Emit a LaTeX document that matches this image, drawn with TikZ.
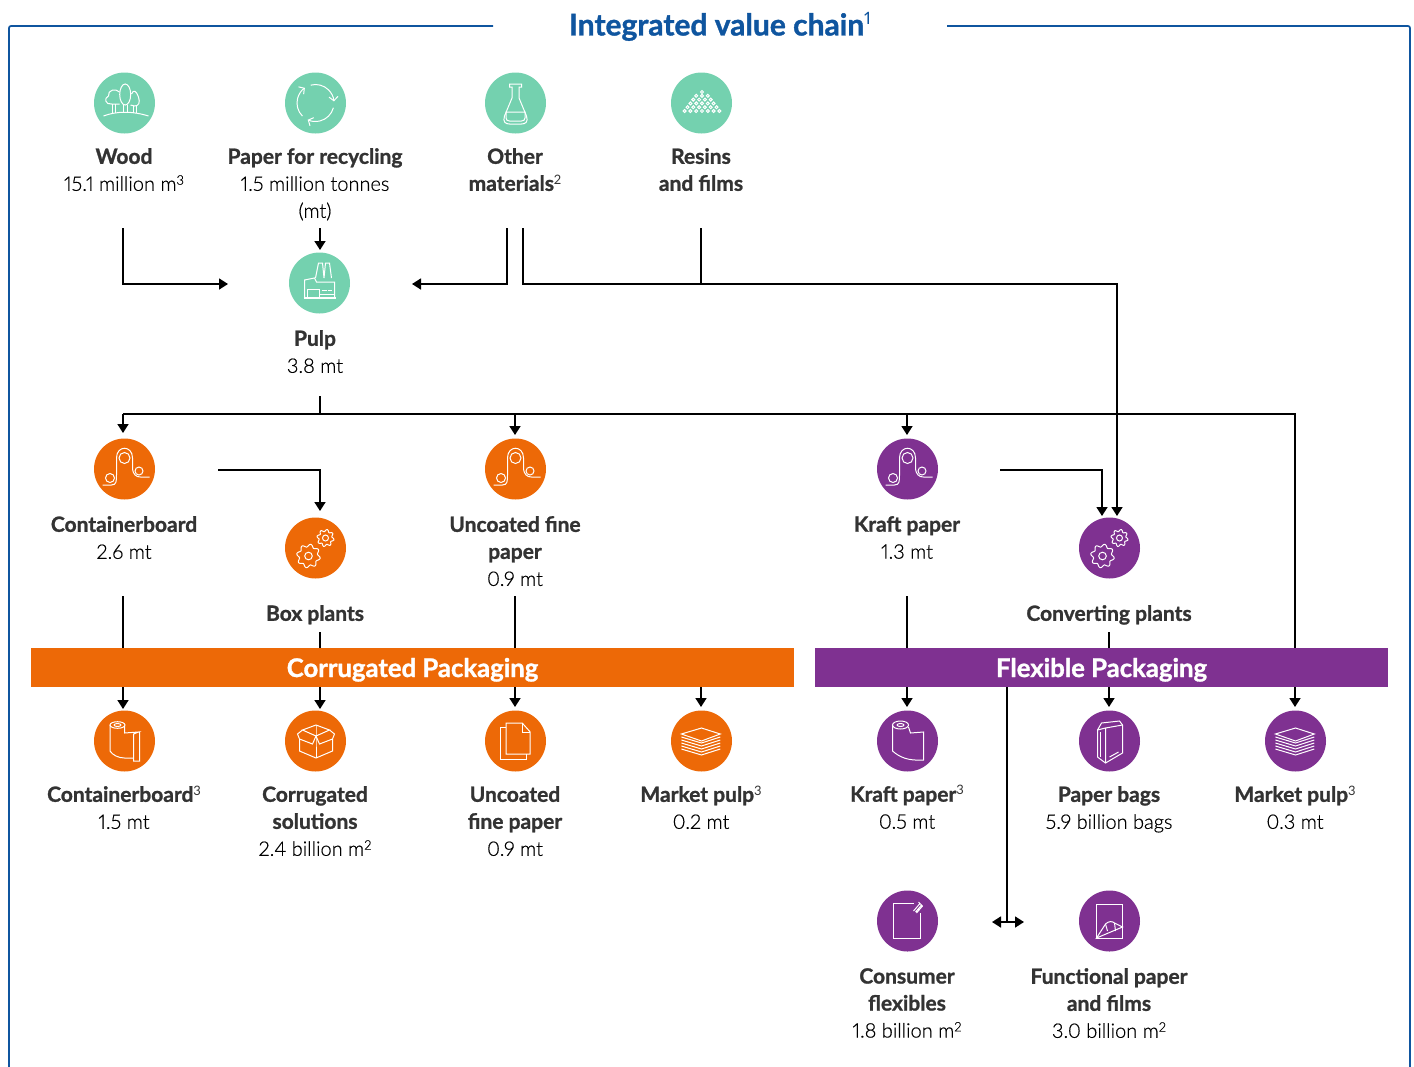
\documentclass[tikz,border=0pt]{standalone}
\usepackage{fontspec}
\setmainfont{Lato}[Numbers=Proportional,BoldFont=Lato Bold,BoldFeatures={FakeBold=1.2}]
\newfontfamily\valfont{Lato Light}[Numbers=Proportional,FakeBold=0.5]
\usetikzlibrary{arrows.meta,positioning}
\definecolor{mint}{HTML}{74D1AF}
\definecolor{corrug}{HTML}{ED6907}
\definecolor{flexi}{HTML}{7F3191}
\definecolor{chain}{HTML}{0F559F}
\definecolor{inkgrey}{HTML}{333333}
\newcommand{\nm}[1]{{\bfseries\color{inkgrey}#1}}
\newcommand{\vl}[1]{{\valfont\fontsize{20}{27}\selectfont #1}}
\newcommand{\upidx}[1]{\smash{\raisebox{0.62ex}{\mdseries\fontsize{13}{13}\selectfont #1}}}
\tikzset{
	disc/.style={circle,inner sep=0pt,minimum size=61pt,fill=#1},
	lab/.style={align=center,anchor=north,inner sep=0pt,font=\fontsize{21}{27}\selectfont},
	band/.style={minimum height=39pt,inner sep=0pt,text height=19pt,text depth=0pt,text=white,font=\fontsize{25.7}{27}\selectfont\bfseries},
	wire/.style={draw=black,line width=1.7pt},
	flow/.style={wire,-{Triangle[length=9pt,width=11pt]}},
	both/.style={wire,{Triangle[length=9pt,width=11pt]}-{Triangle[length=9pt,width=11pt]}},
	ico/.style={draw=white,line width=1pt},
	wider/.style={xscale=1.34},
	pics/trees/.style={code={
		\draw[ico] (-21,13) .. controls (-8,8) and (8,8) .. (24,13);
		\draw[ico] (0.7,-8.5) ellipse (5.5 and 10.5);
		\draw[ico] (-5,-11) .. controls (-9,-15) and (-17,-13) .. (-16,-7) .. controls (-21,-5) and (-19,2) .. (-13,1) -- (-5,1);
		\draw[ico] (7,-9) .. controls (9,-14) and (12,-12) .. (14,-6) .. controls (16,0) and (14,3) .. (10,3) -- (6,2);
		\draw[ico] (-12,1) -- (-12,10) (-9,1) -- (-9,10) (-1,2) -- (-1,9) (2.5,2) -- (2.5,9) (9,3) -- (9,10) (11.5,3) -- (11.5,10);
	}},
	pics/recycle/.style={code={
		\foreach \a in {0,120,240}
			\draw[ico,-{Straight Barb[length=4pt,width=9pt]}] (\a+15:18.5) arc (\a+15:\a+115:18.5);
	}},
	pics/flask/.style={code={
		\draw[ico] (-6,-19) -- (6,-19) -- (6,-16) -- (3.5,-16) -- (3.5,-5) -- (11,13) .. controls (13,19) and (10,21) .. (6,21) -- (-6,21) .. controls (-10,21) and (-13,19) .. (-11,13) -- (-3.5,-5) -- (-3.5,-16) -- (-6,-16) -- cycle;
		\draw[ico] (-9.5,9) -- (9.5,9) -- (9.5,15) .. controls (9.5,17) and (8,18) .. (6,18) -- (-6,18) .. controls (-8,18) and (-9.5,17) .. (-9.5,15) -- cycle;
	}},
	pics/pellets/.style={code={
		\foreach \r/\n in {0/1,1/3,2/4,3/5,4/6,5/7}
			\foreach \k in {1,...,\n}
				\draw[ico,line width=1pt] ({0.5+(\k-(\n+1)/2)*5.8},{-11+\r*3.8}) circle (1.5);
	}},
	pics/factory/.style={code={
		\draw[ico] (-4,-5) -- (-1,-20) -- (3,-20) -- (4.5,-5) -- (6,-20) -- (10,-20) -- (12,-5);
		\draw[ico] (-15,14) -- (-15,-3) -- (-5,-5) -- (-3,-1) -- (15,-1) -- (15,14);
		\draw[ico,line width=1.6pt] (-16,15) -- (16,15);
		\draw[ico] (-12,14) -- (-12,6) -- (0,6) -- (0,14) (2,7) -- (7,7) (8,7) -- (12,7) (0,11) -- (15,11);
	}},
	pics/mill/.style={code={
		\draw[ico] (-22,16) -- (-13,16) .. controls (-8,16) and (-8,12) .. (-8,6) -- (-8,-11) .. controls (-8,-24) and (8,-24) .. (8,-11) -- (8,-2) .. controls (8,6) and (12,8) .. (16,8) -- (25,8);
		\draw[ico] (0,-11) circle (5.5);
		\draw[ico] (-14.5,9) circle (4.5);
		\draw[ico] (14.5,2) circle (4);
	}},
	pics/gears/.style={code={
		\draw[ico] plot[domain=0:360,samples=81] ([shift={(-7,8)}]\x:{10.5+1.4*sin(8*\x)}) -- cycle;
		\draw[ico] (-7,8) circle (3.8);
		\draw[ico] plot[domain=0:360,samples=81] ([shift={(10,-10)}]\x:{7.5+1.1*sin(8*\x)}) -- cycle;
		\draw[ico] (10,-10) circle (3);
	}},
	pics/rollcb/.style={code={
		\draw[ico] (-7,-16) ellipse (7.5 and 3.3);
		\draw[ico] (-7,-16) ellipse (3.5 and 1.5);
		\draw[ico] (-14.5,-16) -- (-14.5,10) .. controls (-12,14) and (-6,17) .. (0,17) -- (9,17);
		\draw[ico] (0,-15) -- (0,-8) -- (14,-9) -- (9,-7) -- (9,20) -- (15,20) -- (15,-9) -- (14,-9);
	}},
	pics/rollkr/.style={code={
		\draw[ico] (-7,-16) ellipse (8 and 4);
		\draw[ico] (-7,-16) ellipse (3.5 and 1.5);
		\draw[ico] (-15,-16) -- (-15,10) .. controls (-8,16) and (0,20) .. (16,19) -- (16,-9) -- (3,-8) -- (1,-14);
	}},
	pics/boxed/.style={code={
		\draw[ico] (-16,-2) -- (-16,10) -- (0.5,17) -- (17,10) -- (17,-2);
		\draw[ico] (0.5,-16) -- (-13,-11) -- (0.5,-5) -- (14,-11) -- cycle;
		\draw[ico] (-13,-11) -- (-18,-7) -- (-16,-2) -- (-3,3) -- (0.5,-5) -- (4,3) -- (17,-2) -- (19,-7) -- (14,-11);
		\draw[ico] (0.5,-16) -- (0.5,-5) -- (0.5,17);
	}},
	pics/pages/.style={code={
		\draw[ico] (-7,-18) -- (5,-18) -- (11,-9) -- (11,13) -- (-7,13) -- cycle;
		\draw[ico] (5,-18) -- (5,-9) -- (11,-9);
		\draw[ico] (-7,-14) -- (-11,-14) -- (-11,18) -- (8,18) -- (8,13);
	}},
	pics/stack/.style={code={
		\draw[ico] (0,-13) -- (14,-7) -- (0,0) -- (-15,-7) -- cycle;
		\foreach \h in {-4,-1,2,5,8}
			\draw[ico] (-15,\h) -- (0,\h+6) -- (14,\h);
	}},
	pics/sack/.style={code={
		\draw[ico] (-8,-18) -- (10,-20) -- (13,-16) -- (13,12) -- (-4,22) -- (-12,16) -- (-12,-11) -- cycle;
		\draw[ico] (-12,-11) -- (-4,-13) -- (-4,22) (-4,-13) -- (13,-16) (0,16) -- (9,11);
		\draw[ico] (-9,-9) -- (-9,16);
	}},
	pics/pouch/.style={code={
		\draw[ico] (6,-18) -- (-14,-18) -- (-14,17) -- (13,17) -- (13,-8);
		\draw[ico] (6,-10) -- (12,-17) (9,-8) -- (15,-15) (8,-9) -- (14,-16) (11,-19) -- (15,-15);
	}},
	pics/film/.style={code={
		\draw[ico] (-13,-17) rectangle (13,17);
		\draw[ico] (-13,17) -- (-4,3) .. controls (-1,0) and (3,0) .. (5,2) -- (13,6) -- cycle;
		\draw[ico] (-4,3) -- (-2,10) (5,2) -- (6,10);
	}},
}
\begin{document}
\begin{tikzpicture}[x=1pt,y=-1pt]
		\useasboundingbox (0,0) rectangle (1414,1066);
		% frame and title
		\node[text=chain,inner sep=0pt,font=\fontsize{30}{32}\selectfont\bfseries](title) at (720,27) {Integrated value chain\smash{\raisebox{0.72ex}{\mdseries\fontsize{17}{17}\selectfont 1}}};
		\coordinate (fl) at (493,26);
		\coordinate (fr) at (947,26);
		\draw[chain,line width=1.7pt,rounded corners=2pt] (fl) -- (9,26) -- (9,1070);
		\draw[chain,line width=1.7pt,rounded corners=2pt] (fr) -- (1410,26) -- (1410,1070);
		% raw materials
		\node[disc=mint](wood) at (124.5,103) {};
		\node[disc=mint](recycling) at (315.5,103) {};
		\node[disc=mint](other) at (515.5,103) {};
		\node[disc=mint](resins) at (701.5,103) {};
		\node[disc=mint](pulp) at (319.5,283) {};
		\pic at (wood) {trees};
		\pic at (recycling) {recycle};
		\pic at (other) {flask};
		\pic at (resins) {pellets};
		\pic at (pulp) {factory};
		\node[lab](woodlab) at (124,148) {\nm{Wood}\\\vl{15.1 million m\upidx{3}}};
		\node[lab](recyclinglab) at (315,148) {\nm{Paper for recycling}\\\vl{1.5 million tonnes}\\\vl{(mt)}};
		\node[lab](otherlab) at (515,148) {\nm{Other}\\\nm{materials\upidx{2}}};
		\node[lab](resinslab) at (701,148) {\nm{Resins}\\\nm{and films}};
		\node[lab](pulplab) at (315,330) {\nm{Pulp}\\\vl{3.8 mt}};
		% mills and plants
		\node[disc=corrug](cbmill) at (124.5,469) {};
		\node[disc=corrug](ufmill) at (515.5,469) {};
		\node[disc=flexi](krmill) at (907.5,469) {};
		\node[disc=corrug](box) at (315.5,548) {};
		\node[disc=flexi](conv) at (1109.5,548) {};
		\pic at (cbmill) {mill};
		\pic at (ufmill) {mill};
		\pic at (krmill) {mill};
		\pic at (box) {gears};
		\pic at (conv) {gears};
		\node[lab](cbmilllab) at (124,516) {\nm{Containerboard}\\\vl{2.6 mt}};
		\node[lab](ufmilllab) at (515,516) {\nm{Uncoated fine}\\\nm{paper}\\\vl{0.9 mt}};
		\node[lab](krmilllab) at (907,516) {\nm{Kraft paper}\\\vl{1.3 mt}};
		\node[lab](boxlab) at (315,605) {\nm{Box plants}};
		\node[lab](convlab) at (1109,605) {\nm{Converting plants}};
		% bands
		\node[band,fill=corrug,minimum width=763pt](corr) at (412.5,667.5) {Corrugated Packaging};
		\node[band,fill=flexi,minimum width=573pt](flex) at (1101.5,667.5) {Flexible Packaging};
		% products
		\node[disc=corrug](cbout) at (124.5,741) {};
		\node[disc=corrug](cs) at (315.5,741) {};
		\node[disc=corrug](ufout) at (515.5,741) {};
		\node[disc=corrug](mpa) at (701.5,741) {};
		\node[disc=flexi](krout) at (907.5,741) {};
		\node[disc=flexi](bags) at (1109.5,741) {};
		\node[disc=flexi](mpb) at (1295.5,741) {};
		\node[disc=flexi](cons) at (907.5,921) {};
		\node[disc=flexi](func) at (1109.5,921) {};
		\pic at (cbout) {rollcb};
		\pic at (cs) {boxed};
		\pic[wider] at (ufout) {pages};
		\pic[wider] at (mpa) {stack};
		\pic at (krout) {rollkr};
		\pic at (bags) {sack};
		\pic[wider] at (mpb) {stack};
		\pic at (cons) {pouch};
		\pic at (func) {film};
		\node[lab](cboutlab) at (124,786) {\nm{Containerboard\upidx{3}}\\\vl{1.5 mt}};
		\node[lab](cslab) at (315,786) {\nm{Corrugated}\\\nm{solutions}\\\vl{2.4 billion m\upidx{2}}};
		\node[lab](ufoutlab) at (515,786) {\nm{Uncoated}\\\nm{fine paper}\\\vl{0.9 mt}};
		\node[lab](mpalab) at (701,786) {\nm{Market pulp\upidx{3}}\\\vl{0.2 mt}};
		\node[lab](kroutlab) at (907,786) {\nm{Kraft paper\upidx{3}}\\\vl{0.5 mt}};
		\node[lab](bagslab) at (1109,786) {\nm{Paper bags}\\\vl{5.9 billion bags}};
		\node[lab](mpblab) at (1295,786) {\nm{Market pulp\upidx{3}}\\\vl{0.3 mt}};
		\node[lab](conslab) at (907,968) {\nm{Consumer}\\\nm{flexibles}\\\vl{1.8 billion m\upidx{2}}};
		\node[lab](funclab) at (1109,968) {\nm{Functional paper}\\\nm{and films}\\\vl{3.0 billion m\upidx{2}}};
		% free ends
		\coordinate (woodout) at (123,228);
		\coordinate (woodin) at (228,284);
		\coordinate (recout) at (320,228);
		\coordinate (otherout) at (507,228);
		\coordinate (otherin) at (412,284);
		\coordinate (convfeed) at (523,228);
		\coordinate (resout) at (701,228);
		\coordinate (pulpout) at (320,396);
		\coordinate (busl) at (123,414);
		\coordinate (busr) at (1295,414);
		\coordinate (cbfeed) at (218,470);
		\coordinate (krfeed) at (1000,470);
		\coordinate (funcl) at (992,922);
		\coordinate (funcr) at (1024,922);
		% inputs to pulp
		\draw[flow] (woodout) |- (woodin);
		\draw[flow] (recout) -- (320,250);
		\draw[flow] (otherout) |- (otherin);
		\draw[flow] (convfeed) |- (1117,284) -- (1117,516);
		\draw[wire] (resout) -- (701,284);
		% pulp bus
		\draw[wire] (pulpout) -- (pulpout |- busl);
		\draw[wire] (busl) -- (busr) -- (busr |- corr.north);
		\draw[flow] (busl) -- (123,433);
		\draw[flow] (515,414) -- (515,435);
		\draw[flow] (907,414) -- (907,435);
		\draw[flow] (flex.south -| busr) -- (1295,707);
		% mills to plants
		\draw[flow] (cbfeed) -| (320,511);
		\draw[flow] (krfeed) -| (1102,516);
		% into the bands
		\draw[wire] (123,596) -- (123,648);
		\draw[wire] (320,632) -- (320,648);
		\draw[wire] (515,596) -- (515,648);
		\draw[wire] (907,596) -- (907,648);
		\draw[wire] (1109,632) -- (1109,648);
		% out of the bands
		\draw[flow] (123,687) -- (123,709);
		\draw[flow] (320,687) -- (320,709);
		\draw[flow] (515,687) -- (515,707);
		\draw[flow] (701,687) -- (701,707);
		\draw[flow] (907,687) -- (907,707);
		\draw[flow] (1109,687) -- (1109,707);
		\draw[wire] (1007,687) -- (1007,922);
		\draw[both] (funcl) -- (funcr);
		\end{tikzpicture}
\end{document}
